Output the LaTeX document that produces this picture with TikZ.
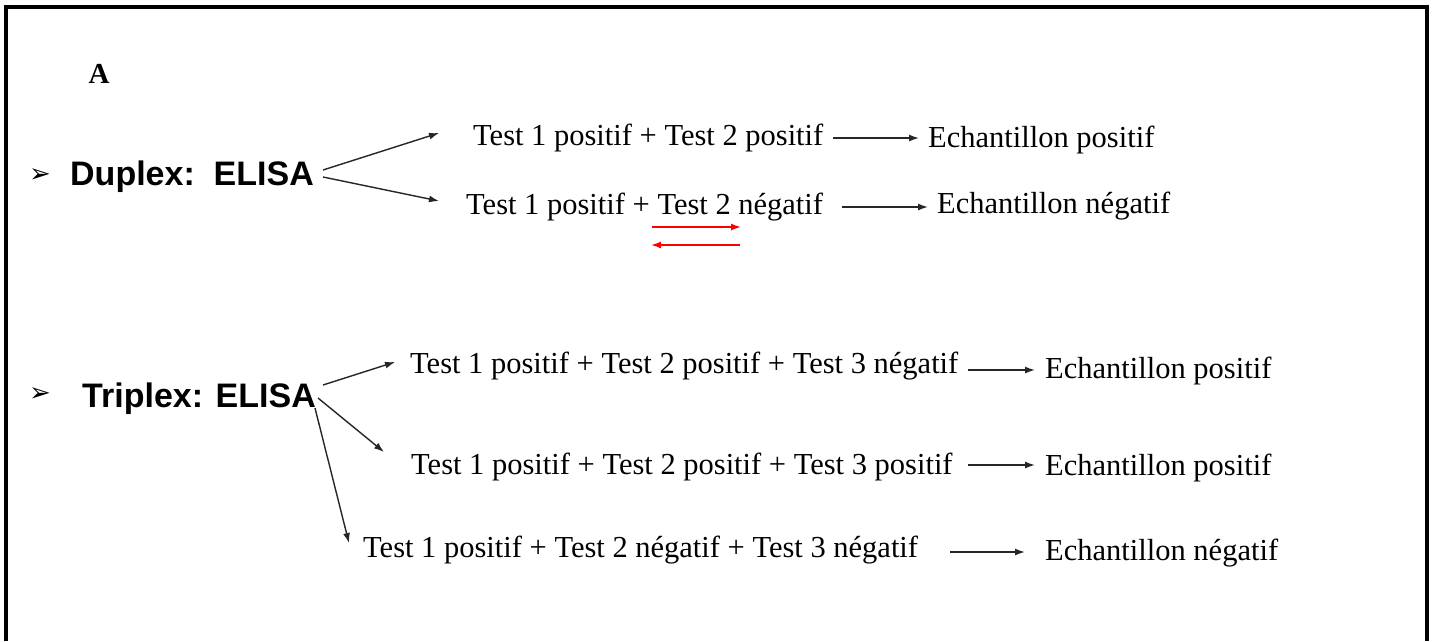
\documentclass[tikz,border=0pt]{standalone}
\usepackage{fontspec}
\setmainfont{Liberation Serif}
\newfontfamily\labsans{Liberation Sans Bold}
\newfontfamily\dejavu{DejaVu Sans}
\usetikzlibrary{arrows.meta}
\begin{document}
\begin{tikzpicture}[x=1pt,y=-1pt,
  txt/.style={inner sep=0pt,anchor=base west,font=\fontsize{30.5}{36}\selectfont},
  head/.style={inner sep=0pt,anchor=base west,font=\labsans\fontsize{34}{40}\selectfont},
  bul/.style={inner sep=0pt,font=\dejavu\fontsize{26}{30}\selectfont},
  arr/.style={-{Latex[length=10pt,width=7pt]},line width=1.4pt,black!85},
  redarr/.style={-{Latex[length=10pt,width=7pt]},line width=1.4pt,red}]
\useasboundingbox (0,0) rectangle (1435,641);
\fill[white] (0,0) rectangle (1435,641);
\draw[line width=4pt] (6,641) -- (6,7) -- (1427,7) -- (1427,641);
\node[inner sep=0pt,anchor=base,font=\bfseries\fontsize{29}{34}\selectfont] (lA) at (99,83) {A};
% Duplex
\node[bul] (b1) at (40,176) {➢};
\node[head] (dup) at (70,185) {Duplex:\ \ ELISA};
\node[txt] (t1) at (473,145) {Test 1 positif + Test 2 positif};
\node[txt] (t2) at (466,214) {Test 1 positif + Test 2 négatif};
\node[txt] (e1) at (928,147) {Echantillon positif};
\node[txt] (e2) at (937,213) {Echantillon négatif};
\coordinate (a1s) at (323,170); \coordinate (a1e) at (439,133);
\coordinate (a2s) at (323,177); \coordinate (a2e) at (439,201);
\draw[arr] (a1s) -- (a1e);
\draw[arr] (a2s) -- (a2e);
\coordinate (r1s) at (833,138); \coordinate (r1e) at (919,138);
\coordinate (r2s) at (842,207); \coordinate (r2e) at (928,207);
\draw[arr] (r1s) -- (r1e);
\draw[arr] (r2s) -- (r2e);
\coordinate (rr1s) at (652,227); \coordinate (rr1e) at (741,227);
\coordinate (rr2s) at (740,245); \coordinate (rr2e) at (651,245);
\draw[redarr] (rr1s) -- (rr1e);
\draw[redarr] (rr2s) -- (rr2e);
% Triplex
\node[bul] (b2) at (40,395) {➢};
\node[head] (tri) at (82,407) {Triplex: ELISA};
\node[txt] (u1) at (410,373) {Test 1 positif + Test 2 positif + Test 3 négatif};
\node[txt] (u2) at (411,474) {Test 1 positif + Test 2 positif + Test 3 positif};
\node[txt] (u3) at (363,557) {Test 1 positif + Test 2 négatif + Test 3 négatif};
\node[txt] (f1) at (1045,378) {Echantillon positif};
\node[txt] (f2) at (1045,475) {Echantillon positif};
\node[txt] (f3) at (1045,560) {Echantillon négatif};
\coordinate (c1s) at (323,385); \coordinate (c1e) at (395,362);
\coordinate (c2s) at (318,398); \coordinate (c2e) at (384,452);
\coordinate (c3s) at (315,408); \coordinate (c3e) at (349,543);
\draw[arr] (c1s) -- (c1e);
\draw[arr] (c2s) -- (c2e);
\draw[arr] (c3s) -- (c3e);
\coordinate (s1s) at (968,370); \coordinate (s1e) at (1035,370);
\coordinate (s2s) at (968,465); \coordinate (s2e) at (1035,465);
\coordinate (s3s) at (950,552); \coordinate (s3e) at (1025,552);
\draw[arr] (s1s) -- (s1e);
\draw[arr] (s2s) -- (s2e);
\draw[arr] (s3s) -- (s3e);
\end{tikzpicture}
\end{document}
